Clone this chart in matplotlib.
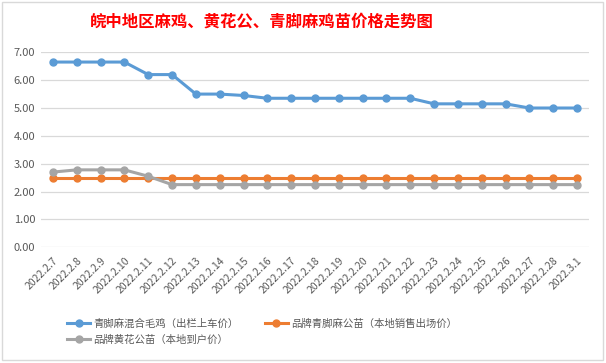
import numpy as np
import matplotlib
matplotlib.use('Agg')
import matplotlib.pyplot as plt
from matplotlib.patches import Rectangle

plt.rcParams['font.family'] = ['Noto Sans CJK SC', 'DejaVu Sans']

# dates and prices
dates = ['2022.2.7', '2022.2.8', '2022.2.9', '2022.2.10', '2022.2.11', '2022.2.12',
         '2022.2.13', '2022.2.14', '2022.2.15', '2022.2.16', '2022.2.17', '2022.2.18',
         '2022.2.19', '2022.2.20', '2022.2.21', '2022.2.22', '2022.2.23', '2022.2.24',
         '2022.2.25', '2022.2.26', '2022.2.27', '2022.2.28', '2022.3.1']
mixed_hen = [6.65, 6.65, 6.65, 6.65, 6.2, 6.2, 5.5, 5.5, 5.45, 5.35, 5.35, 5.35,
             5.35, 5.35, 5.35, 5.35, 5.15, 5.15, 5.15, 5.15, 5.0, 5.0, 5.0]
qingjiao_chick = [2.5] * 23
huanghua_chick = [2.7, 2.78, 2.78, 2.78, 2.55, 2.25, 2.25, 2.25, 2.25, 2.25, 2.25, 2.25,
                  2.25, 2.25, 2.25, 2.25, 2.25, 2.25, 2.25, 2.25, 2.25, 2.25, 2.25]

labels = ['青脚麻混合毛鸡（出栏上车价）', '品牌青脚麻公苗（本地销售出场价）', '品牌黄花公苗（本地到户价）']
colors = ['#5B9BD5', '#ED7D31', '#A5A5A5']
title = '皖中地区麻鸡、黄花公、青脚麻鸡苗价格走势图'

fig = plt.figure(figsize=(6.06, 3.63), dpi=100)
W, H = 606, 363
ax = fig.add_axes([41 / W, 1 - 247.3 / H, 548 / W, (247.3 - 52.3) / H])

x = np.arange(len(dates))
handles = []
for ys, c, lab in zip([mixed_hen, qingjiao_chick, huanghua_chick], colors, labels):
    h, = ax.plot(x, ys, color=c, lw=2.2, marker='o', ms=5, label=lab)
    handles.append(h)

ax.set_xlim(-0.5, len(dates) - 0.5)
ax.set_ylim(0, 7)
ax.set_yticks(np.arange(0, 8, 1))
ax.set_yticklabels(['%.2f' % v for v in np.arange(0, 8, 1)], fontsize=8, color='#595959')
ax.set_xticks(x)
ax.set_xticklabels(dates, rotation=45, ha='right', rotation_mode='anchor',
                   fontsize=7.5, color='#595959')
ax.tick_params(axis='both', length=0, pad=4)
ax.tick_params(axis='x', pad=6)
ax.grid(axis='y', color='#D9D9D9', lw=0.9)
ax.set_axisbelow(True)
for s in ax.spines.values():
    s.set_visible(False)

fig.text(262 / W, 1 - 22 / H, title, color='red', fontsize=11.8, fontweight='bold',
         ha='center', va='center')

fig.legend([handles[0], handles[2], handles[1]], [labels[0], labels[2], labels[1]],
           ncol=2, loc='center', bbox_to_anchor=(262 / W, 1 - 331.5 / H), frameon=False,
           fontsize=7.5, labelcolor='#595959', handlelength=2.2, handletextpad=0.3,
           columnspacing=2.5, labelspacing=0.55, borderaxespad=0)

fig.patches.append(Rectangle((2 / W, 3 / H), 601 / W, 358 / H, transform=fig.transFigure,
                             fill=False, edgecolor='#D9D9D9', lw=1))

fig.savefig('out.png', dpi=100)
